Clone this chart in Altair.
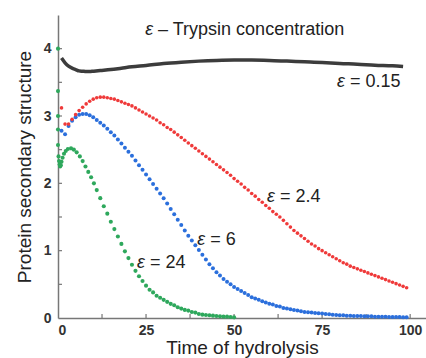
import altair as alt
import numpy as np
import pandas as pd

# Hydrolysis time grid (common to three of the series)
time_grid = list(np.arange(1, 100))

# epsilon = 0.15 (drawn as a continuous dark trace)
black_time = [1, 2, 3, 4, 5, 6, 7, 8, 9, 10, 12, 15, 18, 21, 25, 30, 35, 40, 45, 50,
              55, 60, 65, 70, 75, 80, 85, 90, 95, 98]
black_vals = [3.86, 3.79, 3.74, 3.71, 3.69, 3.67, 3.665, 3.66, 3.66, 3.665, 3.675, 3.69,
              3.71, 3.73, 3.75, 3.78, 3.80, 3.815, 3.825, 3.83, 3.83, 3.825, 3.815, 3.805,
              3.795, 3.78, 3.77, 3.755, 3.745, 3.735]

# epsilon = 2.4
red_vals = [3.12, 2.88, 2.88, 2.95, 3.02, 3.08, 3.13, 3.18, 3.22, 3.25,
            3.27, 3.28, 3.28, 3.27, 3.26, 3.25, 3.23, 3.21, 3.19, 3.17,
            3.15, 3.12, 3.09, 3.06, 3.03, 3.00, 2.97, 2.94, 2.90, 2.87,
            2.83, 2.80, 2.76, 2.72, 2.68, 2.64, 2.60, 2.56, 2.52, 2.48,
            2.44, 2.40, 2.36, 2.32, 2.28, 2.24, 2.20, 2.16, 2.12, 2.07,
            2.03, 1.99, 1.94, 1.90, 1.85, 1.81, 1.76, 1.72, 1.67, 1.63,
            1.58, 1.54, 1.50, 1.45, 1.40, 1.35, 1.30, 1.26, 1.22, 1.18,
            1.14, 1.10, 1.07, 1.03, 1.00, 0.97, 0.94, 0.91, 0.88, 0.85,
            0.82, 0.80, 0.77, 0.75, 0.73, 0.71, 0.69, 0.67, 0.65, 0.63,
            0.61, 0.59, 0.57, 0.55, 0.53, 0.51, 0.49, 0.47, 0.45]

# epsilon = 6
blue_vals = [2.78, 2.73, 2.85, 2.93, 2.98, 3.02, 3.03, 3.03, 3.01, 2.98,
             2.94, 2.90, 2.86, 2.81, 2.76, 2.71, 2.65, 2.59, 2.53, 2.47,
             2.41, 2.34, 2.27, 2.20, 2.13, 2.06, 1.99, 1.92, 1.85, 1.78,
             1.70, 1.62, 1.54, 1.46, 1.38, 1.30, 1.22, 1.15, 1.08, 1.01,
             0.94, 0.87, 0.80, 0.74, 0.68, 0.63, 0.58, 0.54, 0.50, 0.46,
             0.43, 0.40, 0.37, 0.34, 0.31, 0.29, 0.27, 0.25, 0.23, 0.21,
             0.20, 0.18, 0.17, 0.15, 0.14, 0.13, 0.12, 0.11, 0.10, 0.09,
             0.085, 0.08, 0.075, 0.07, 0.065, 0.06, 0.055, 0.05, 0.045, 0.04,
             0.04, 0.035, 0.035, 0.03, 0.03, 0.03, 0.025, 0.025, 0.025, 0.02,
             0.02, 0.02, 0.02, 0.015, 0.015, 0.015, 0.015, 0.01, 0.01]

# epsilon = 24 (dense sampling at the very start)
green_time = [0, 0, 0, 0, 0, 0.15, 0.3, 0.45, 0.6, 0.8, 1.0, 1.3, 1.7, 2.2, 2.8, 3.7,
              4.5, 5.3, 6.2, 7.0, 7.8, 8.6, 9.4, 10.2,
              11, 12, 13, 14, 15, 16, 17, 18, 19, 20, 21, 22, 23, 24, 25, 26, 27, 28,
              29, 30, 31, 32, 33, 34, 35, 36, 37, 38, 39, 40, 41, 42, 43, 44, 45, 46,
              47, 48, 49, 50]
green_vals = [4.00, 3.37, 3.00, 2.80, 2.57, 2.40, 2.33, 2.28, 2.25, 2.27, 2.32, 2.38,
              2.44, 2.48, 2.51, 2.52, 2.50, 2.46, 2.40, 2.33, 2.25, 2.17, 2.09, 2.00,
              1.90, 1.78, 1.66, 1.55, 1.43, 1.32, 1.21, 1.10, 0.99, 0.89, 0.79, 0.70,
              0.62, 0.55, 0.48, 0.42, 0.38, 0.33, 0.30, 0.27, 0.24, 0.21, 0.19, 0.16,
              0.14, 0.12, 0.11, 0.09, 0.08, 0.06, 0.05, 0.045, 0.04, 0.035, 0.03, 0.025,
              0.02, 0.02, 0.015, 0.01]

# Curve annotations: italic epsilon, then the rest of the label to its right
ann_x = [27.0, 81.5, 61.6, 41.8, 24.7]
ann_y = [4.28, 3.51, 1.80, 1.16, 0.82]
ann_rest = ["– Trypsin concentration", "= 0.15", "= 2.4", "= 6", "= 24"]

x_ticks = [12.5, 25, 37.5, 50, 62.5, 75, 87.5, 100]
y_ticks = [0.5, 1, 1.5, 2, 2.5, 3, 3.5, 4]

FONT = "Liberation Sans"
W, H = 368, 303

xs = alt.Scale(domain=[0, 104.5], nice=False, zero=False)
ys = alt.Scale(domain=[0, 4.5], nice=False)

x_axis = alt.Axis(values=[0, 25, 50, 75, 100], ticks=False, grid=False, format="d",
                  domainColor="#777", domainWidth=1.5, labelFont=FONT,
                  labelFontSize=14, labelFontWeight="bold", labelColor="#333",
                  labelPadding=5, title="Time of hydrolysis", titleFont=FONT,
                  titleFontSize=19, titleFontWeight="normal", titleColor="#222",
                  titlePadding=1)
y_axis = alt.Axis(values=[0, 1, 2, 3, 4], ticks=False, grid=False, format="d",
                  domainColor="#777", domainWidth=1.5, labelFont=FONT,
                  labelFontSize=14, labelFontWeight="bold", labelColor="#333",
                  labelPadding=7, title="Protein secondary structure", titleFont=FONT,
                  titleFontSize=19, titleFontWeight="normal", titleColor="#222",
                  titlePadding=9)

red_df = pd.DataFrame({"t": time_grid, "v": red_vals})
blue_df = pd.DataFrame({"t": time_grid, "v": blue_vals})
green_df = pd.DataFrame({"t": green_time, "v": green_vals})
black_df = pd.DataFrame({"t": black_time, "v": black_vals})
ann_df = pd.DataFrame({"x": ann_x, "y": ann_y, "rest": ann_rest, "eps": ["ε"] * 5})

base_axes = alt.Chart(red_df).mark_point(opacity=0).encode(
    x=alt.X("t:Q", scale=xs, axis=x_axis),
    y=alt.Y("v:Q", scale=ys, axis=y_axis),
)

def dots(df, color, size):
    return alt.Chart(df).mark_circle(color=color, size=size, opacity=1).encode(
        x=alt.X("t:Q", scale=xs), y=alt.Y("v:Q", scale=ys))

black_line = alt.Chart(black_df).mark_line(
    color="#3c3c3c", strokeWidth=3.5, interpolate="monotone").encode(
    x=alt.X("t:Q", scale=xs), y=alt.Y("v:Q", scale=ys))

xt = alt.Chart(pd.DataFrame({"p": x_ticks})).mark_rule(
    color="#777", strokeWidth=1.2).encode(
    x=alt.X("p:Q", scale=xs), y=alt.value(H), y2=alt.value(H - 4))
yt = alt.Chart(pd.DataFrame({"p": y_ticks})).mark_rule(
    color="#777", strokeWidth=1.2).encode(
    y=alt.Y("p:Q", scale=ys), x=alt.value(0), x2=alt.value(4))

eps_text = alt.Chart(ann_df).mark_text(
    font=FONT, fontSize=18, fontStyle="italic", align="right", baseline="middle",
    color="#222").encode(
    x=alt.X("x:Q", scale=xs), y=alt.Y("y:Q", scale=ys), text="eps:N")
rest_text = alt.Chart(ann_df).mark_text(
    font=FONT, fontSize=18, align="left", baseline="middle", color="#222", dx=5).encode(
    x=alt.X("x:Q", scale=xs), y=alt.Y("y:Q", scale=ys), text="rest:N")

chart = alt.layer(
    base_axes, xt, yt,
    dots(green_df, "#2ea85c", 17),
    dots(blue_df, "#2b6fdc", 16),
    dots(red_df, "#ef3a3a", 13),
    black_line, eps_text, rest_text,
).properties(
    width=W, height=H,
    autosize=alt.AutoSizeParams(type="none"),
    padding={"left": 58, "top": 15, "right": 0, "bottom": 40},
    background="white",
).configure_view(stroke=None)

chart.save("out.html", embed_options={"renderer": "svg", "actions": False})
